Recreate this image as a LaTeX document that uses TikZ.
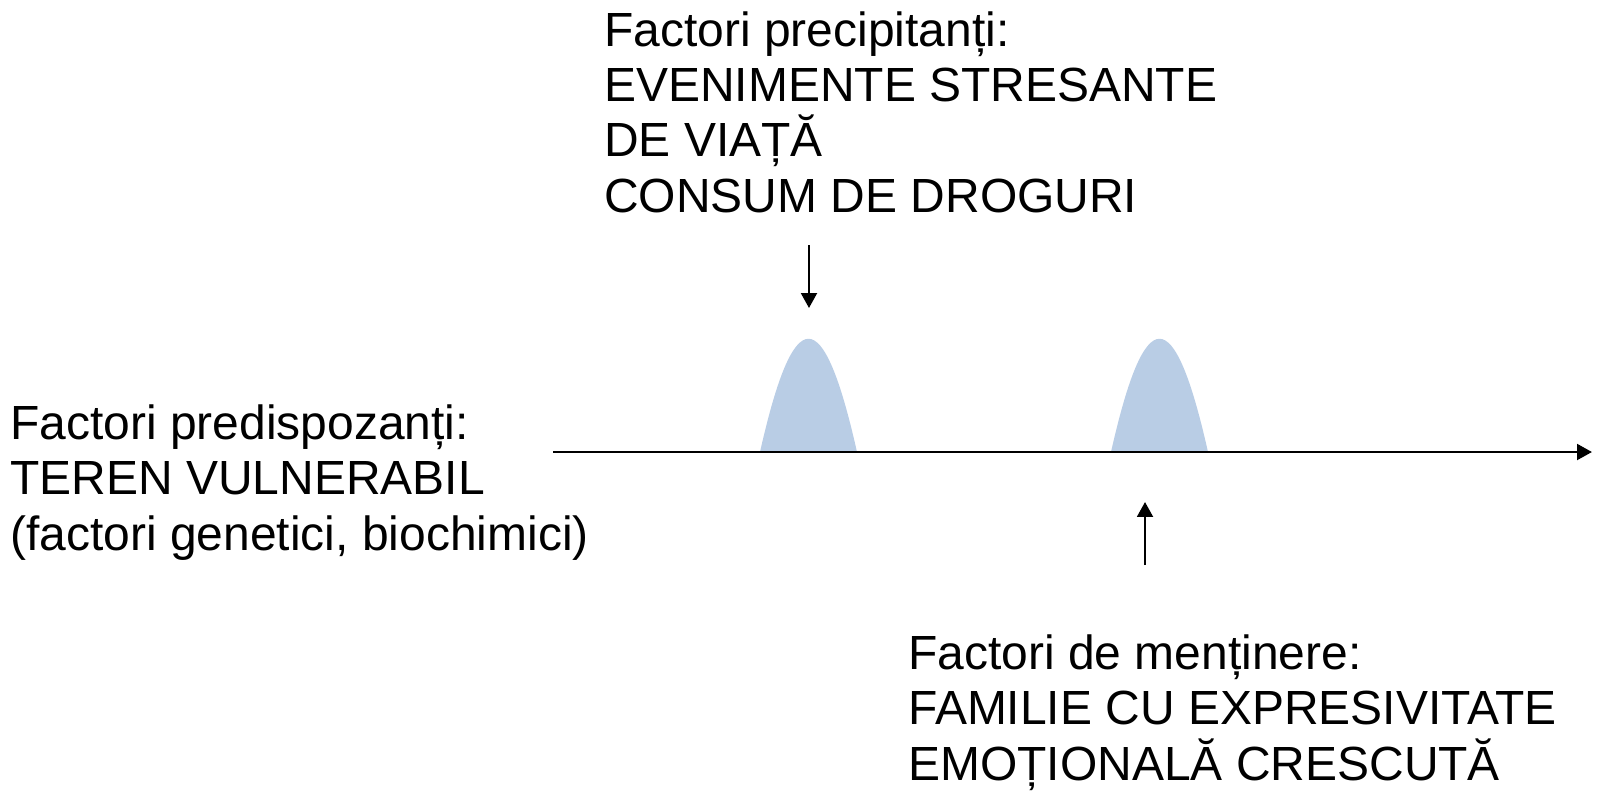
\documentclass[tikz,border=0pt]{standalone}
\usepackage{fontspec}
\setmainfont{Liberation Sans}
\usetikzlibrary{arrows.meta, positioning}
\definecolor{EpisodeBlue}{HTML}{B9CDE5}

\begin{document}
\begin{tikzpicture}[x=0.02cm, y=-0.02cm,
      factor/.style={anchor=base west, align=left, inner sep=0pt,
         font=\fontsize{27.3}{31.4}\selectfont},
      timearrow/.style={-{Triangle[length=8.5pt, width=9pt]}, line width=1.4pt}]
   \useasboundingbox (0,0) rectangle (1600,796);
   % Episodes
   \fill[EpisodeBlue] (760,452) .. controls (794,301) and (823,301) .. (857,452) -- cycle;
   \fill[EpisodeBlue] (1111,452) .. controls (1145,301) and (1174,301) .. (1208,452) -- cycle;
   % Time axis
   \coordinate (t0) at (553,452);
   \coordinate (t1) at (1592,452);
   \draw[timearrow] (t0) -- (t1);
   % Predisposing factors
   \node[factor] (predisp) at (10,550)
      {Factori predispozanți:\\TEREN VULNERABIL\\(factori genetici, biochimici)};
   % Precipitating factors
   \node[factor] (precip) at (604,212)
      {Factori precipitanți:\\EVENIMENTE STRESANTE\\DE VIAȚĂ\\CONSUM DE DROGURI};
   \coordinate (precip end) at (809,245);
   \coordinate (episode1) at (809,308);
   \draw[timearrow] (precip end) -- (episode1);
   % Maintaining factors
   \node[factor] (mentin) at (908,780)
      {Factori de menținere:\\FAMILIE CU EXPRESIVITATE\\EMOȚIONALĂ CRESCUTĂ};
   \coordinate (mentin end) at (1145,565);
   \coordinate (episode2) at (1145,502);
   \draw[timearrow] (mentin end) -- (episode2);
\end{tikzpicture}
\end{document}
